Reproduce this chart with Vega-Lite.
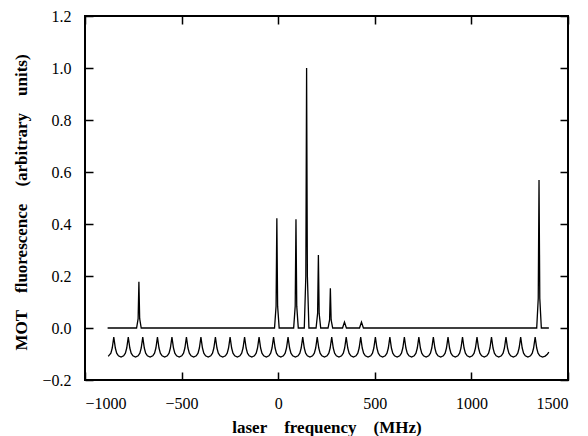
{
  "$schema": "https://vega.github.io/schema/vega-lite/v6.json",
  "width": 483,
  "height": 364,
  "autosize": "none",
  "padding": {"left": 85, "top": 16, "right": 20, "bottom": 56},
  "background": "white",
  "config": {
    "view": {"stroke": "black", "strokeWidth": 2},
    "font": "Liberation Serif",
    "axis": {
      "labelFont": "Liberation Serif",
      "labelFontSize": 16,
      "labelColor": "black",
      "titleFont": "Liberation Serif",
      "titleFontSize": 17,
      "titleFontWeight": "bold",
      "titleColor": "black"
    }
  },
  "data": {"values": [
    {"s": "comb", "x": -880, "y": -0.109},
    {"s": "comb", "x": -866, "y": -0.097}, {"s": "comb", "x": -859, "y": -0.077}, {"s": "comb", "x": -855, "y": -0.056}, {"s": "comb", "x": -851, "y": -0.035},
    {"s": "comb", "x": -847, "y": -0.056}, {"s": "comb", "x": -843, "y": -0.077}, {"s": "comb", "x": -836, "y": -0.097}, {"s": "comb", "x": -827, "y": -0.107}, {"s": "comb", "x": -813.5, "y": -0.112}, {"s": "comb", "x": -800, "y": -0.107}, {"s": "comb", "x": -791, "y": -0.097}, {"s": "comb", "x": -784, "y": -0.077}, {"s": "comb", "x": -780, "y": -0.056}, {"s": "comb", "x": -776, "y": -0.035},
    {"s": "comb", "x": -772, "y": -0.056}, {"s": "comb", "x": -768, "y": -0.077}, {"s": "comb", "x": -761, "y": -0.097}, {"s": "comb", "x": -752, "y": -0.107}, {"s": "comb", "x": -738.5, "y": -0.112}, {"s": "comb", "x": -725, "y": -0.107}, {"s": "comb", "x": -716, "y": -0.097}, {"s": "comb", "x": -709, "y": -0.077}, {"s": "comb", "x": -705, "y": -0.056}, {"s": "comb", "x": -701, "y": -0.035},
    {"s": "comb", "x": -697, "y": -0.056}, {"s": "comb", "x": -693, "y": -0.077}, {"s": "comb", "x": -686, "y": -0.097}, {"s": "comb", "x": -677, "y": -0.107}, {"s": "comb", "x": -663, "y": -0.112}, {"s": "comb", "x": -649, "y": -0.107}, {"s": "comb", "x": -640, "y": -0.097}, {"s": "comb", "x": -633, "y": -0.077}, {"s": "comb", "x": -629, "y": -0.056}, {"s": "comb", "x": -625, "y": -0.035},
    {"s": "comb", "x": -621, "y": -0.056}, {"s": "comb", "x": -617, "y": -0.077}, {"s": "comb", "x": -610, "y": -0.097}, {"s": "comb", "x": -601, "y": -0.107}, {"s": "comb", "x": -587.5, "y": -0.112}, {"s": "comb", "x": -574, "y": -0.107}, {"s": "comb", "x": -565, "y": -0.097}, {"s": "comb", "x": -558, "y": -0.077}, {"s": "comb", "x": -554, "y": -0.056}, {"s": "comb", "x": -550, "y": -0.035},
    {"s": "comb", "x": -546, "y": -0.056}, {"s": "comb", "x": -542, "y": -0.077}, {"s": "comb", "x": -535, "y": -0.097}, {"s": "comb", "x": -526, "y": -0.107}, {"s": "comb", "x": -512.5, "y": -0.112}, {"s": "comb", "x": -499, "y": -0.107}, {"s": "comb", "x": -490, "y": -0.097}, {"s": "comb", "x": -483, "y": -0.077}, {"s": "comb", "x": -479, "y": -0.056}, {"s": "comb", "x": -475, "y": -0.035},
    {"s": "comb", "x": -471, "y": -0.056}, {"s": "comb", "x": -467, "y": -0.077}, {"s": "comb", "x": -460, "y": -0.097}, {"s": "comb", "x": -451, "y": -0.107}, {"s": "comb", "x": -437.5, "y": -0.112}, {"s": "comb", "x": -424, "y": -0.107}, {"s": "comb", "x": -415, "y": -0.097}, {"s": "comb", "x": -408, "y": -0.077}, {"s": "comb", "x": -404, "y": -0.056}, {"s": "comb", "x": -400, "y": -0.035},
    {"s": "comb", "x": -396, "y": -0.056}, {"s": "comb", "x": -392, "y": -0.077}, {"s": "comb", "x": -385, "y": -0.097}, {"s": "comb", "x": -376, "y": -0.107}, {"s": "comb", "x": -362.5, "y": -0.112}, {"s": "comb", "x": -349, "y": -0.107}, {"s": "comb", "x": -340, "y": -0.097}, {"s": "comb", "x": -333, "y": -0.077}, {"s": "comb", "x": -329, "y": -0.056}, {"s": "comb", "x": -325, "y": -0.035},
    {"s": "comb", "x": -321, "y": -0.056}, {"s": "comb", "x": -317, "y": -0.077}, {"s": "comb", "x": -310, "y": -0.097}, {"s": "comb", "x": -301, "y": -0.107}, {"s": "comb", "x": -287, "y": -0.112}, {"s": "comb", "x": -273, "y": -0.107}, {"s": "comb", "x": -264, "y": -0.097}, {"s": "comb", "x": -257, "y": -0.077}, {"s": "comb", "x": -253, "y": -0.056}, {"s": "comb", "x": -249, "y": -0.035},
    {"s": "comb", "x": -245, "y": -0.056}, {"s": "comb", "x": -241, "y": -0.077}, {"s": "comb", "x": -234, "y": -0.097}, {"s": "comb", "x": -225, "y": -0.107}, {"s": "comb", "x": -211.5, "y": -0.112}, {"s": "comb", "x": -198, "y": -0.107}, {"s": "comb", "x": -189, "y": -0.097}, {"s": "comb", "x": -182, "y": -0.077}, {"s": "comb", "x": -178, "y": -0.056}, {"s": "comb", "x": -174, "y": -0.035},
    {"s": "comb", "x": -170, "y": -0.056}, {"s": "comb", "x": -166, "y": -0.077}, {"s": "comb", "x": -159, "y": -0.097}, {"s": "comb", "x": -150, "y": -0.107}, {"s": "comb", "x": -136.5, "y": -0.112}, {"s": "comb", "x": -123, "y": -0.107}, {"s": "comb", "x": -114, "y": -0.097}, {"s": "comb", "x": -107, "y": -0.077}, {"s": "comb", "x": -103, "y": -0.056}, {"s": "comb", "x": -99, "y": -0.035},
    {"s": "comb", "x": -95, "y": -0.056}, {"s": "comb", "x": -91, "y": -0.077}, {"s": "comb", "x": -84, "y": -0.097}, {"s": "comb", "x": -75, "y": -0.107}, {"s": "comb", "x": -61.5, "y": -0.112}, {"s": "comb", "x": -48, "y": -0.107}, {"s": "comb", "x": -39, "y": -0.097}, {"s": "comb", "x": -32, "y": -0.077}, {"s": "comb", "x": -28, "y": -0.056}, {"s": "comb", "x": -24, "y": -0.035},
    {"s": "comb", "x": -20, "y": -0.056}, {"s": "comb", "x": -16, "y": -0.077}, {"s": "comb", "x": -9, "y": -0.097}, {"s": "comb", "x": 0, "y": -0.107}, {"s": "comb", "x": 13.5, "y": -0.112}, {"s": "comb", "x": 27, "y": -0.107}, {"s": "comb", "x": 36, "y": -0.097}, {"s": "comb", "x": 43, "y": -0.077}, {"s": "comb", "x": 47, "y": -0.056}, {"s": "comb", "x": 51, "y": -0.035},
    {"s": "comb", "x": 55, "y": -0.056}, {"s": "comb", "x": 59, "y": -0.077}, {"s": "comb", "x": 66, "y": -0.097}, {"s": "comb", "x": 75, "y": -0.107}, {"s": "comb", "x": 89, "y": -0.112}, {"s": "comb", "x": 103, "y": -0.107}, {"s": "comb", "x": 112, "y": -0.097}, {"s": "comb", "x": 119, "y": -0.077}, {"s": "comb", "x": 123, "y": -0.056}, {"s": "comb", "x": 127, "y": -0.035},
    {"s": "comb", "x": 131, "y": -0.056}, {"s": "comb", "x": 135, "y": -0.077}, {"s": "comb", "x": 142, "y": -0.097}, {"s": "comb", "x": 151, "y": -0.107}, {"s": "comb", "x": 164.5, "y": -0.112}, {"s": "comb", "x": 178, "y": -0.107}, {"s": "comb", "x": 187, "y": -0.097}, {"s": "comb", "x": 194, "y": -0.077}, {"s": "comb", "x": 198, "y": -0.056}, {"s": "comb", "x": 202, "y": -0.035},
    {"s": "comb", "x": 206, "y": -0.056}, {"s": "comb", "x": 210, "y": -0.077}, {"s": "comb", "x": 217, "y": -0.097}, {"s": "comb", "x": 226, "y": -0.107}, {"s": "comb", "x": 239.5, "y": -0.112}, {"s": "comb", "x": 253, "y": -0.107}, {"s": "comb", "x": 262, "y": -0.097}, {"s": "comb", "x": 269, "y": -0.077}, {"s": "comb", "x": 273, "y": -0.056}, {"s": "comb", "x": 277, "y": -0.035},
    {"s": "comb", "x": 281, "y": -0.056}, {"s": "comb", "x": 285, "y": -0.077}, {"s": "comb", "x": 292, "y": -0.097}, {"s": "comb", "x": 301, "y": -0.107}, {"s": "comb", "x": 314.5, "y": -0.112}, {"s": "comb", "x": 328, "y": -0.107}, {"s": "comb", "x": 337, "y": -0.097}, {"s": "comb", "x": 344, "y": -0.077}, {"s": "comb", "x": 348, "y": -0.056}, {"s": "comb", "x": 352, "y": -0.035},
    {"s": "comb", "x": 356, "y": -0.056}, {"s": "comb", "x": 360, "y": -0.077}, {"s": "comb", "x": 367, "y": -0.097}, {"s": "comb", "x": 376, "y": -0.107}, {"s": "comb", "x": 389.5, "y": -0.112}, {"s": "comb", "x": 403, "y": -0.107}, {"s": "comb", "x": 412, "y": -0.097}, {"s": "comb", "x": 419, "y": -0.077}, {"s": "comb", "x": 423, "y": -0.056}, {"s": "comb", "x": 427, "y": -0.035},
    {"s": "comb", "x": 431, "y": -0.056}, {"s": "comb", "x": 435, "y": -0.077}, {"s": "comb", "x": 442, "y": -0.097}, {"s": "comb", "x": 451, "y": -0.107}, {"s": "comb", "x": 465, "y": -0.112}, {"s": "comb", "x": 479, "y": -0.107}, {"s": "comb", "x": 488, "y": -0.097}, {"s": "comb", "x": 495, "y": -0.077}, {"s": "comb", "x": 499, "y": -0.056}, {"s": "comb", "x": 503, "y": -0.035},
    {"s": "comb", "x": 507, "y": -0.056}, {"s": "comb", "x": 511, "y": -0.077}, {"s": "comb", "x": 518, "y": -0.097}, {"s": "comb", "x": 527, "y": -0.107}, {"s": "comb", "x": 540.5, "y": -0.112}, {"s": "comb", "x": 554, "y": -0.107}, {"s": "comb", "x": 563, "y": -0.097}, {"s": "comb", "x": 570, "y": -0.077}, {"s": "comb", "x": 574, "y": -0.056}, {"s": "comb", "x": 578, "y": -0.035},
    {"s": "comb", "x": 582, "y": -0.056}, {"s": "comb", "x": 586, "y": -0.077}, {"s": "comb", "x": 593, "y": -0.097}, {"s": "comb", "x": 602, "y": -0.107}, {"s": "comb", "x": 615.5, "y": -0.112}, {"s": "comb", "x": 629, "y": -0.107}, {"s": "comb", "x": 638, "y": -0.097}, {"s": "comb", "x": 645, "y": -0.077}, {"s": "comb", "x": 649, "y": -0.056}, {"s": "comb", "x": 653, "y": -0.035},
    {"s": "comb", "x": 657, "y": -0.056}, {"s": "comb", "x": 661, "y": -0.077}, {"s": "comb", "x": 668, "y": -0.097}, {"s": "comb", "x": 677, "y": -0.107}, {"s": "comb", "x": 690.5, "y": -0.112}, {"s": "comb", "x": 704, "y": -0.107}, {"s": "comb", "x": 713, "y": -0.097}, {"s": "comb", "x": 720, "y": -0.077}, {"s": "comb", "x": 724, "y": -0.056}, {"s": "comb", "x": 728, "y": -0.035},
    {"s": "comb", "x": 732, "y": -0.056}, {"s": "comb", "x": 736, "y": -0.077}, {"s": "comb", "x": 743, "y": -0.097}, {"s": "comb", "x": 752, "y": -0.107}, {"s": "comb", "x": 765.5, "y": -0.112}, {"s": "comb", "x": 779, "y": -0.107}, {"s": "comb", "x": 788, "y": -0.097}, {"s": "comb", "x": 795, "y": -0.077}, {"s": "comb", "x": 799, "y": -0.056}, {"s": "comb", "x": 803, "y": -0.035},
    {"s": "comb", "x": 807, "y": -0.056}, {"s": "comb", "x": 811, "y": -0.077}, {"s": "comb", "x": 818, "y": -0.097}, {"s": "comb", "x": 827, "y": -0.107}, {"s": "comb", "x": 841, "y": -0.112}, {"s": "comb", "x": 855, "y": -0.107}, {"s": "comb", "x": 864, "y": -0.097}, {"s": "comb", "x": 871, "y": -0.077}, {"s": "comb", "x": 875, "y": -0.056}, {"s": "comb", "x": 879, "y": -0.035},
    {"s": "comb", "x": 883, "y": -0.056}, {"s": "comb", "x": 887, "y": -0.077}, {"s": "comb", "x": 894, "y": -0.097}, {"s": "comb", "x": 903, "y": -0.107}, {"s": "comb", "x": 916.5, "y": -0.112}, {"s": "comb", "x": 930, "y": -0.107}, {"s": "comb", "x": 939, "y": -0.097}, {"s": "comb", "x": 946, "y": -0.077}, {"s": "comb", "x": 950, "y": -0.056}, {"s": "comb", "x": 954, "y": -0.035},
    {"s": "comb", "x": 958, "y": -0.056}, {"s": "comb", "x": 962, "y": -0.077}, {"s": "comb", "x": 969, "y": -0.097}, {"s": "comb", "x": 978, "y": -0.107}, {"s": "comb", "x": 991.5, "y": -0.112}, {"s": "comb", "x": 1005, "y": -0.107}, {"s": "comb", "x": 1014, "y": -0.097}, {"s": "comb", "x": 1021, "y": -0.077}, {"s": "comb", "x": 1025, "y": -0.056}, {"s": "comb", "x": 1029, "y": -0.035},
    {"s": "comb", "x": 1033, "y": -0.056}, {"s": "comb", "x": 1037, "y": -0.077}, {"s": "comb", "x": 1044, "y": -0.097}, {"s": "comb", "x": 1053, "y": -0.107}, {"s": "comb", "x": 1066.5, "y": -0.112}, {"s": "comb", "x": 1080, "y": -0.107}, {"s": "comb", "x": 1089, "y": -0.097}, {"s": "comb", "x": 1096, "y": -0.077}, {"s": "comb", "x": 1100, "y": -0.056}, {"s": "comb", "x": 1104, "y": -0.035},
    {"s": "comb", "x": 1108, "y": -0.056}, {"s": "comb", "x": 1112, "y": -0.077}, {"s": "comb", "x": 1119, "y": -0.097}, {"s": "comb", "x": 1128, "y": -0.107}, {"s": "comb", "x": 1141.5, "y": -0.112}, {"s": "comb", "x": 1155, "y": -0.107}, {"s": "comb", "x": 1164, "y": -0.097}, {"s": "comb", "x": 1171, "y": -0.077}, {"s": "comb", "x": 1175, "y": -0.056}, {"s": "comb", "x": 1179, "y": -0.035},
    {"s": "comb", "x": 1183, "y": -0.056}, {"s": "comb", "x": 1187, "y": -0.077}, {"s": "comb", "x": 1194, "y": -0.097}, {"s": "comb", "x": 1203, "y": -0.107}, {"s": "comb", "x": 1217, "y": -0.112}, {"s": "comb", "x": 1231, "y": -0.107}, {"s": "comb", "x": 1240, "y": -0.097}, {"s": "comb", "x": 1247, "y": -0.077}, {"s": "comb", "x": 1251, "y": -0.056}, {"s": "comb", "x": 1255, "y": -0.035},
    {"s": "comb", "x": 1259, "y": -0.056}, {"s": "comb", "x": 1263, "y": -0.077}, {"s": "comb", "x": 1270, "y": -0.097}, {"s": "comb", "x": 1279, "y": -0.107}, {"s": "comb", "x": 1292.5, "y": -0.112}, {"s": "comb", "x": 1306, "y": -0.107}, {"s": "comb", "x": 1315, "y": -0.097}, {"s": "comb", "x": 1322, "y": -0.077}, {"s": "comb", "x": 1326, "y": -0.056}, {"s": "comb", "x": 1330, "y": -0.035},
    {"s": "comb", "x": 1334, "y": -0.056}, {"s": "comb", "x": 1338, "y": -0.077}, {"s": "comb", "x": 1345, "y": -0.097}, {"s": "comb", "x": 1354, "y": -0.107}, {"s": "comb", "x": 1368, "y": -0.112}, {"s": "comb", "x": 1382, "y": -0.108}, {"s": "comb", "x": 1393, "y": -0.101}, {"s": "comb", "x": 1401, "y": -0.093},
    {"s": "spec", "x": -883, "y": 0},
    {"s": "spec", "x": -733, "y": 0}, {"s": "spec", "x": -725, "y": 0.036}, {"s": "spec", "x": -721, "y": 0.178}, {"s": "spec", "x": -717, "y": 0.036}, {"s": "spec", "x": -709, "y": 0},
    {"s": "spec", "x": -19, "y": 0}, {"s": "spec", "x": -11, "y": 0.084}, {"s": "spec", "x": -7, "y": 0.422}, {"s": "spec", "x": -3, "y": 0.084}, {"s": "spec", "x": 5, "y": 0},
    {"s": "spec", "x": 80, "y": 0}, {"s": "spec", "x": 88, "y": 0.084}, {"s": "spec", "x": 92, "y": 0.418}, {"s": "spec", "x": 96, "y": 0.084}, {"s": "spec", "x": 104, "y": 0},
    {"s": "spec", "x": 135, "y": 0}, {"s": "spec", "x": 143, "y": 0.2}, {"s": "spec", "x": 147, "y": 1.0}, {"s": "spec", "x": 151, "y": 0.2}, {"s": "spec", "x": 159, "y": 0},
    {"s": "spec", "x": 196, "y": 0}, {"s": "spec", "x": 204, "y": 0.056}, {"s": "spec", "x": 208, "y": 0.281}, {"s": "spec", "x": 212, "y": 0.056}, {"s": "spec", "x": 220, "y": 0},
    {"s": "spec", "x": 258, "y": 0}, {"s": "spec", "x": 266, "y": 0.031}, {"s": "spec", "x": 270, "y": 0.153}, {"s": "spec", "x": 274, "y": 0.031}, {"s": "spec", "x": 282, "y": 0},
    {"s": "spec", "x": 333, "y": 0}, {"s": "spec", "x": 343, "y": 0.023}, {"s": "spec", "x": 353, "y": 0},
    {"s": "spec", "x": 421, "y": 0}, {"s": "spec", "x": 431, "y": 0.023}, {"s": "spec", "x": 441, "y": 0},
    {"s": "spec", "x": 1338, "y": 0}, {"s": "spec", "x": 1346, "y": 0.114}, {"s": "spec", "x": 1350, "y": 0.569}, {"s": "spec", "x": 1354, "y": 0.114}, {"s": "spec", "x": 1362, "y": 0},
    {"s": "spec", "x": 1401, "y": 0}
  ]},
  "mark": {"type": "line", "color": "black", "strokeWidth": 1.3},
  "encoding": {
    "detail": {"field": "s", "type": "nominal"},
    "x": {
      "field": "x", "type": "quantitative",
      "scale": {"domain": [-1000, 1500], "nice": false},
      "axis": {
        "orient": "bottom",
        "domain": false,
        "ticks": false,
        "tickSize": 0,
        "grid": true,
        "gridColor": "black",
        "gridOpacity": 1,
        "gridWidth": 1.5,
        "gridDash": [8, 348, 8, 0],
        "values": [-1000, -500, 0, 500, 1000, 1500],
        "format": "d",
        "labelPadding": 15,
        "title": "laser\u00a0\u00a0\u00a0\u00a0frequency\u00a0\u00a0\u00a0\u00a0(MHz)",
        "titleY": 52,
        "titleBaseline": "alphabetic"
      }
    },
    "y": {
      "field": "y", "type": "quantitative",
      "scale": {"domain": [-0.2, 1.2], "nice": false, "zero": false},
      "axis": {
        "orient": "left",
        "domain": false,
        "ticks": false,
        "tickSize": 0,
        "grid": true,
        "gridColor": "black",
        "gridOpacity": 1,
        "gridWidth": 1.5,
        "gridDash": [8, 467, 8, 0],
        "values": [-0.2, 0, 0.2, 0.4, 0.6, 0.8, 1, 1.2],
        "format": ".1f",
        "labelPadding": 14,
        "title": "MOT\u00a0\u00a0\u00a0\u00a0fluorescence\u00a0\u00a0\u00a0\u00a0(arbitrary\u00a0\u00a0\u00a0\u00a0units)",
        "titleX": -59,
        "titleY": 186,
        "titleBaseline": "alphabetic"
      }
    }
  }
}
